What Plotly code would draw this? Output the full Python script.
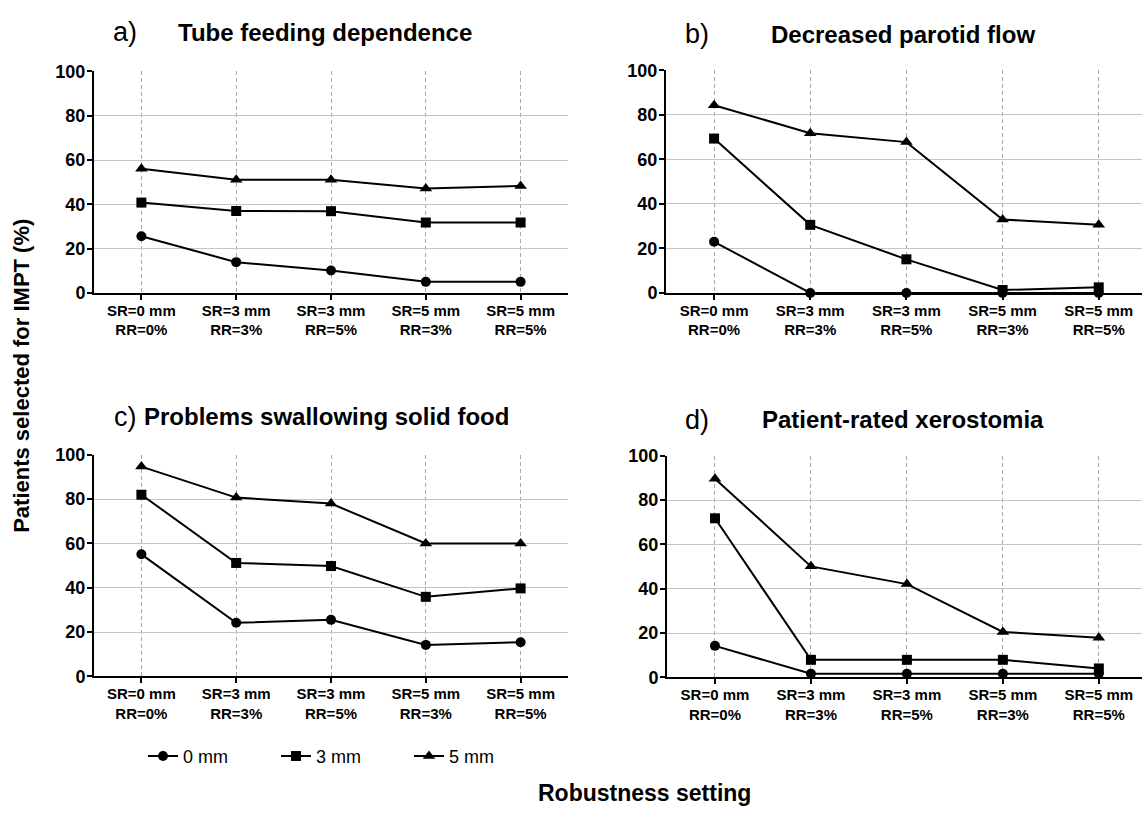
import plotly.graph_objects as go

categories = ["SR=0 mm<br>RR=0%", "SR=3 mm<br>RR=3%", "SR=3 mm<br>RR=5%",
              "SR=5 mm<br>RR=3%", "SR=5 mm<br>RR=5%"]
series_names = ["0 mm", "3 mm", "5 mm"]
y_ticks = [0, 20, 40, 60, 80, 100]

panel_letters = ["a)", "b)", "c)", "d)"]
panel_titles = ["Tube feeding dependence", "Decreased parotid flow",
                "Problems swallowing solid food", "Patient-rated xerostomia"]

tube_0mm = [25.6, 13.9, 10.1, 5.0, 5.0]
tube_3mm = [40.8, 37.0, 36.9, 31.8, 31.8]
tube_5mm = [56.1, 51.1, 51.1, 47.1, 48.3]

parotid_0mm = [23.0, 0.0, 0.0, 0.0, 0.0]
parotid_3mm = [69.4, 30.6, 15.1, 1.3, 2.5]
parotid_5mm = [84.4, 71.8, 67.8, 33.0, 30.6]

swallow_0mm = [55.1, 24.2, 25.5, 14.2, 15.4]
swallow_3mm = [82.0, 51.2, 49.8, 35.9, 39.7]
swallow_5mm = [94.7, 80.7, 78.0, 60.0, 60.0]

xero_0mm = [14.2, 1.6, 1.6, 1.6, 1.6]
xero_3mm = [71.8, 7.9, 7.9, 7.9, 4.0]
xero_5mm = [89.7, 50.1, 42.1, 20.5, 17.9]

panels = [
    [tube_0mm, tube_3mm, tube_5mm],
    [parotid_0mm, parotid_3mm, parotid_5mm],
    [swallow_0mm, swallow_3mm, swallow_5mm],
    [xero_0mm, xero_3mm, xero_5mm],
]

W, H = 1142, 820
FONT = "Liberation Sans, Arial, Helvetica, sans-serif"
symbols = ["circle", "square", "triangle-up"]
sizes = [10, 10, 11]

# panel geometry (pixels)
x_dom = [(94, 568), (666, 1142), (94, 568), (667, 1142)]
y_dom = [(63, 290), (62, 290), (456, 683), (457, 684)]
x_ranges = [[-0.5, 4.5], [-0.5, 4.45], [-0.5, 4.5], [-0.5, 4.45]]

fig = go.Figure()
layout = {}
for i, series in enumerate(panels):
    ax = "" if i == 0 else str(i + 1)
    for j, vals in enumerate(series):
        fig.add_trace(go.Scatter(
            x=categories, y=vals, mode="lines+markers",
            name=series_names[j], legendgroup=series_names[j],
            showlegend=(i == 0),
            line=dict(color="black", width=2),
            marker=dict(symbol=symbols[j], size=sizes[j], color="black"),
            cliponaxis=False,
            xaxis="x" + ax, yaxis="y" + ax,
        ))
    x0, x1 = x_dom[i]
    yt, yb = y_dom[i]
    layout["xaxis" + ax] = dict(
        domain=[x0 / W, min(x1 / W, 1.0)],
        anchor="y" + ax,
        type="category",
        range=x_ranges[i],
        showline=True, linecolor="black", linewidth=2,
        ticks="outside", ticklen=5, tickwidth=2, tickcolor="black",
        showgrid=True, gridcolor="#a8a8a8", gridwidth=1, griddash="4px,3px",
        zeroline=False,
        tickfont=dict(family=FONT, size=15, color="black", weight="bold"),
        ticklabelstandoff=-2,
        fixedrange=True,
    )
    layout["yaxis" + ax] = dict(
        domain=[1 - yb / H, 1 - yt / H],
        anchor="x" + ax,
        range=[0, 100],
        tickvals=y_ticks,
        showline=True, linecolor="black", linewidth=2,
        ticks="outside", ticklen=5, tickwidth=2, tickcolor="black",
        showgrid=True, gridcolor="#c4c4c4", gridwidth=1,
        zeroline=False,
        tickfont=dict(family=FONT, size=18, color="black", weight="bold"),
        ticklabelstandoff=-2,
        fixedrange=True,
    )

letter_pos = [(125, 23), (697, 25), (125, 417), (697, 420)]
title_pos = [(325, 23), (903, 25), (326, 417), (903, 420)]
annotations = []
for i in range(4):
    lx, ly = letter_pos[i]
    tx, ty = title_pos[i]
    annotations.append(dict(
        text=panel_letters[i], x=lx / W, y=1 - ly / H, xref="paper", yref="paper",
        xanchor="center", yanchor="middle", showarrow=False,
        font=dict(family=FONT, size=27, color="black")))
    annotations.append(dict(
        text=panel_titles[i], x=tx / W, y=1 - ty / H, xref="paper", yref="paper",
        xanchor="center", yanchor="middle", showarrow=False,
        font=dict(family=FONT, size=24, color="black", weight="bold")))

annotations.append(dict(
    text="Patients selected for IMPT (%)", x=22 / W, y=1 - 375 / H,
    xref="paper", yref="paper", xanchor="center", yanchor="middle",
    showarrow=False, textangle=-90,
    font=dict(family=FONT, size=22, color="black", weight="bold")))
annotations.append(dict(
    text="Robustness setting", x=644 / W, y=1 - 803 / H,
    xref="paper", yref="paper", xanchor="center", yanchor="middle",
    showarrow=False,
    font=dict(family=FONT, size=23, color="black", weight="bold")))

layout.update(dict(
    width=W, height=H,
    margin=dict(l=0, r=0, t=0, b=0),
    paper_bgcolor="white", plot_bgcolor="white",
    annotations=annotations,
    legend=dict(
        orientation="h", x=143 / W, y=1 - 765 / H, xanchor="left", yanchor="middle",
        font=dict(family=FONT, size=18, color="black"),
        entrywidth=88, entrywidthmode="pixels",
        bgcolor="rgba(0,0,0,0)",
    ),
    showlegend=True,
))
fig.update_layout(**layout)
fig.write_html(
    "out.html",
    config={"displayModeBar": False},
    post_script="document.body.style.margin='0';document.body.style.overflow='hidden';",
)
